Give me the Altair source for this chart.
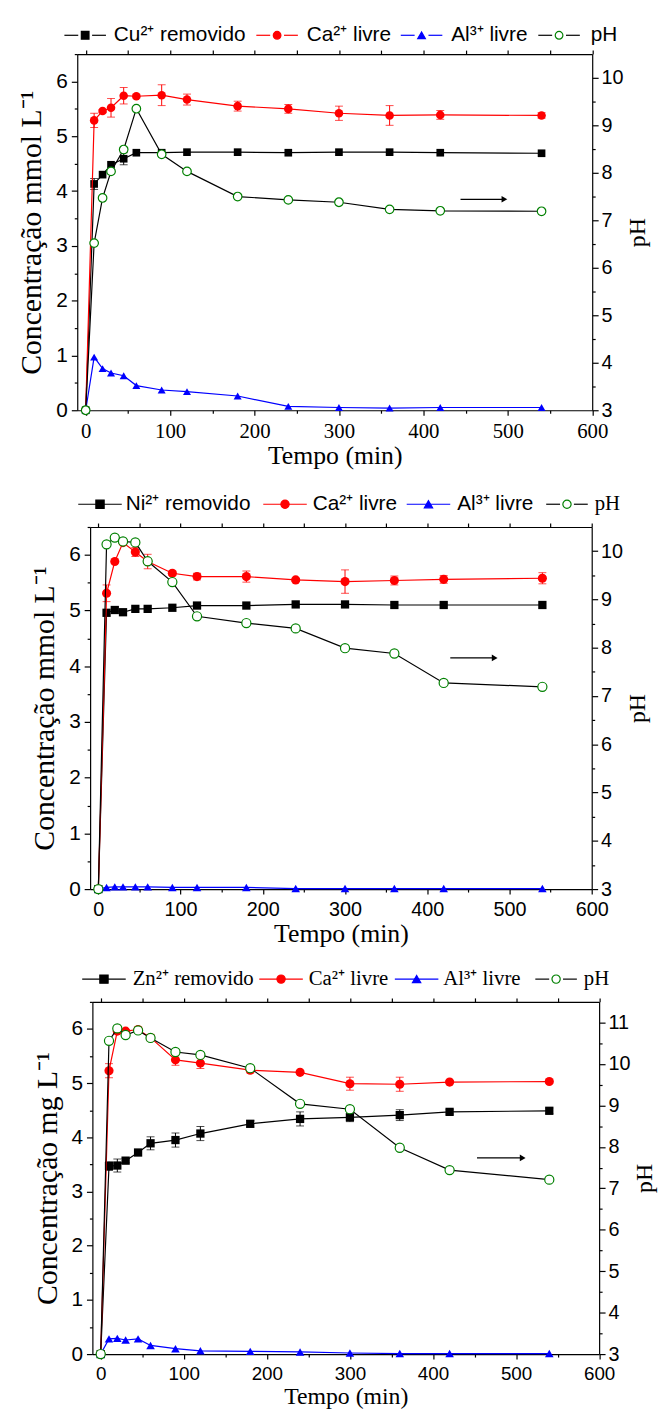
import altair as alt
import pandas as pd

# ---------------- data ----------------
T = [0, 10, 20, 30, 45, 60, 90, 120, 180, 240, 300, 360, 420, 540]

# Painel 1 (Cu)
cu_removido = [0, 4.13, 4.30, 4.48, 4.59, 4.70, 4.70, 4.71, 4.71, 4.70, 4.71, 4.71, 4.70, 4.69]
cu_removido_err = [0, 0.10, 0, 0, 0.11, 0, 0, 0, 0, 0, 0, 0, 0, 0]
ca_livre_1 = [0, 5.29, 5.46, 5.52, 5.74, 5.73, 5.75, 5.67, 5.55, 5.50, 5.42, 5.38, 5.39, 5.38]
ca_livre_1_err = [0, 0.13, 0.03, 0.17, 0.15, 0.03, 0.19, 0.10, 0.09, 0.08, 0.13, 0.18, 0.08, 0.05]
al_livre_1 = [0, 0.97, 0.76, 0.68, 0.63, 0.45, 0.37, 0.34, 0.26, 0.07, 0.05, 0.04, 0.05, 0.05]
ph_1 = [3.0, 6.52, 7.47, 8.03, 8.49, 9.35, 8.39, 8.03, 7.50, 7.43, 7.38, 7.23, 7.20, 7.19]

# Painel 2 (Ni)
ni_removido = [0, 4.96, 5.01, 4.97, 5.03, 5.03, 5.05, 5.09, 5.09, 5.11, 5.11, 5.10, 5.10, 5.10]
ni_removido_err = [0, 0, 0, 0, 0, 0, 0, 0, 0, 0, 0, 0, 0, 0]
ca_livre_2 = [0, 5.31, 5.88, 6.22, 6.05, 5.88, 5.67, 5.61, 5.61, 5.55, 5.52, 5.54, 5.56, 5.58]
ca_livre_2_err = [0, 0.15, 0, 0, 0.08, 0.13, 0.04, 0.06, 0.10, 0.03, 0.21, 0.08, 0.07, 0.10]
al_livre_2 = [0, 0.03, 0.04, 0.04, 0.04, 0.04, 0.03, 0.03, 0.03, 0.01, 0.01, 0.01, 0.01, 0.01]
ph_2 = [3.0, 10.14, 10.28, 10.20, 10.18, 9.79, 9.36, 8.65, 8.51, 8.40, 7.99, 7.88, 7.27, 7.19]

# Painel 3 (Zn)
zn_removido = [0, 3.47, 3.48, 3.57, 3.72, 3.89, 3.95, 4.07, 4.25, 4.34, 4.37, 4.41, 4.47, 4.49]
zn_removido_err = [0, 0.08, 0.12, 0.04, 0.04, 0.12, 0.13, 0.13, 0.06, 0.13, 0.08, 0.10, 0.04, 0.05]
ca_livre_3 = [0, 5.23, 5.96, 5.96, 5.99, 5.84, 5.43, 5.37, 5.24, 5.20, 4.99, 4.98, 5.02, 5.03]
ca_livre_3_err = [0, 0.13, 0.04, 0.03, 0.03, 0.06, 0.10, 0.10, 0.05, 0.03, 0.12, 0.13, 0.03, 0.03]
al_livre_3 = [0, 0.28, 0.29, 0.26, 0.28, 0.16, 0.10, 0.06, 0.05, 0.04, 0.02, 0.01, 0.01, 0.01]
ph_3 = [3.0, 10.56, 10.86, 10.70, 10.81, 10.63, 10.29, 10.22, 9.90, 9.04, 8.91, 7.98, 7.44, 7.21]

legend_labels_1 = ["Cu²⁺ removido", "Ca²⁺ livre", "Al³⁺ livre", "pH"]
legend_labels_2 = ["Ni²⁺ removido", "Ca²⁺ livre", "Al³⁺ livre", "pH"]
legend_labels_3 = ["Zn²⁺ removido", "Ca²⁺ livre", "Al³⁺ livre", "pH"]

ytitle_1 = "Concentração mmol L⁻¹"
ytitle_2 = "Concentração mmol L⁻¹"
ytitle_3 = "Concentração mg L⁻¹"
xtitle = "Tempo (min)"

# arrow annotation (t start, t end, concentration level)
arrow_1 = [444, 496, 3.85]
arrow_2 = [428, 482, 4.15]
arrow_3 = [453, 508, 3.62]

# ---------------- style / layout ----------------
SANS = "Liberation Sans"
SERIF = "Liberation Serif"
XDOM = [-10, 600]
KEYS = ["rem", "ca", "al", "ph"]
FILLS = ["black", "red", "blue", "white"]
STROKES = ["black", "red", "blue", "green"]
LINECOL = ["black", "red", "blue", "black"]
SHAPES = ["square", "circle", "triangle-up", "circle"]

W, H = 657, 1408          # whole drawing area (one view); panels are placed inside it


def make_df(rem, rem_err, ca, ca_err, al, ph):
    return pd.DataFrame({
        "t": T,
        "rem": rem,
        "rem_err": rem_err,
        "rem_lo": [v - e for v, e in zip(rem, rem_err)],
        "rem_hi": [v + e for v, e in zip(rem, rem_err)],
        "ca": ca,
        "ca_err": ca_err,
        "ca_lo": [v - e for v, e in zip(ca, ca_err)],
        "ca_hi": [v + e for v, e in zip(ca, ca_err)],
        "al": al,
        "ph": ph,
    })


def panel_layers(df, labels, ytitle, arrow, cfg):
    xl, xr, yt, yb = cfg["xl"], cfg["xr"], cfg["yt"], cfg["yb"]
    xs = alt.Scale(domain=XDOM, range=[xl, xr], nice=False, zero=False)
    ysl = alt.Scale(domain=[0, 6.5], range=[yb, yt], nice=False, zero=False)
    ysr = alt.Scale(domain=[3, cfg["phmax"]], range=[yb, yt], nice=False, zero=False)
    base = alt.Chart(df)

    def X(axis=None):
        return alt.X("t:Q", scale=xs, axis=axis)

    def YL(f, axis=None):
        return alt.Y(f + ":Q", scale=ysl, axis=axis)

    def YR(f, axis=None):
        return alt.Y(f + ":Q", scale=ysr, axis=axis)

    common = dict(domainColor="black", tickColor="black", labelColor="black",
                  titleColor="black", grid=False, domainWidth=1.2, tickWidth=1.2)
    off_b = yb - H
    off_t = -yt
    off_l = -xl
    off_r = xr - W
    ax_bottom = alt.Axis(orient="bottom", offset=off_b, values=list(range(0, 601, 100)),
                         title=xtitle, titleFont=SERIF, titleFontSize=cfg["xts"],
                         titleFontWeight=400, titlePadding=cfg["xtp"],
                         labelFont=cfg["xfont"], labelFontSize=cfg["xfs"],
                         labelPadding=cfg["xlp"], tickSize=5, labelFlush=False, **common)
    ax_bottom_minor = alt.Axis(orient="bottom", offset=off_b, values=list(range(50, 600, 100)),
                               labels=False, title=None, tickSize=3, domain=False, **common)
    ax_top = alt.Axis(orient="top", offset=off_t, values=list(range(0, 601, 50)), labels=False,
                      title=None, tickSize=4, **common)
    ax_left = alt.Axis(orient="left", offset=off_l, values=list(range(0, 7)), title=ytitle,
                       titleFont=SERIF, titleFontSize=30, titleFontWeight=400,
                       titlePadding=9, labelFont=SANS, labelFontSize=21, labelPadding=4,
                       tickSize=6, labelFlush=False, **common)
    ax_left_minor = alt.Axis(orient="left", offset=off_l, values=[i + 0.5 for i in range(0, 7)],
                             labels=False, title=None, tickSize=3, domain=False, **common)
    ph_top = int(cfg["phmax"])
    ax_right = alt.Axis(orient="right", offset=off_r, values=list(range(3, ph_top + 1)), title="pH",
                        titleFont=SERIF, titleFontSize=24, titleFontWeight=400,
                        titleAngle=270, titleBaseline="top", titlePadding=3,
                        labelFont=SANS, labelFontSize=20,
                        labelPadding=3, tickSize=6, labelFlush=False, **common)
    ax_right_minor = alt.Axis(orient="right", offset=off_r, values=[i + 0.5 for i in range(3, ph_top)],
                              labels=False, title=None, tickSize=3, domain=False, **common)

    layers = []
    # axis hosts (invisible)
    layers.append(base.mark_line(opacity=0).encode(x=X(ax_bottom), y=YL("rem", ax_left)))
    layers.append(base.mark_line(opacity=0).encode(x=X(ax_bottom_minor), y=YL("rem", ax_left_minor)))
    layers.append(base.mark_line(opacity=0).encode(x=X(ax_top), y=YR("ph", ax_right)))
    layers.append(base.mark_line(opacity=0).encode(x=X(), y=YR("ph", ax_right_minor)))

    lw = 1.2
    msz = cfg["msz"]
    # removed metal (black squares)
    layers.append(base.mark_line(color="black", strokeWidth=lw).encode(x=X(), y=YL("rem")))
    eb = base.transform_filter("datum.rem_err > 0")
    layers.append(eb.mark_rule(color="black", strokeWidth=1).encode(x=X(), y=YL("rem_lo"), y2="rem_hi:Q"))
    layers.append(eb.mark_tick(color="black", orient="horizontal", size=8, thickness=1).encode(x=X(), y=YL("rem_lo")))
    layers.append(eb.mark_tick(color="black", orient="horizontal", size=8, thickness=1).encode(x=X(), y=YL("rem_hi")))
    layers.append(base.mark_point(shape="square", filled=True, color="black", size=msz, opacity=1).encode(x=X(), y=YL("rem")))

    # Ca (red circles)
    layers.append(base.mark_line(color="red", strokeWidth=lw).encode(x=X(), y=YL("ca")))
    eb = base.transform_filter("datum.ca_err > 0")
    layers.append(eb.mark_rule(color="red", strokeWidth=1).encode(x=X(), y=YL("ca_lo"), y2="ca_hi:Q"))
    layers.append(eb.mark_tick(color="red", orient="horizontal", size=8, thickness=1).encode(x=X(), y=YL("ca_lo")))
    layers.append(eb.mark_tick(color="red", orient="horizontal", size=8, thickness=1).encode(x=X(), y=YL("ca_hi")))
    layers.append(base.mark_point(shape="circle", filled=True, color="red", size=msz + 15, opacity=1).encode(x=X(), y=YL("ca")))

    # Al (blue triangles)
    layers.append(base.mark_line(color="blue", strokeWidth=lw).encode(x=X(), y=YL("al")))
    layers.append(base.mark_point(shape="triangle-up", filled=True, color="blue", size=msz + 5, opacity=1).encode(x=X(), y=YL("al")))

    # pH (black line, open green circles) on the right scale
    layers.append(base.mark_line(color="black", strokeWidth=lw).encode(x=X(), y=YR("ph")))
    layers.append(base.mark_point(shape="circle", filled=False, fill="white", stroke="green",
                                  strokeWidth=1.2, size=msz + 15, opacity=1).encode(x=X(), y=YR("ph")))

    # arrow pointing to the right axis
    adf = pd.DataFrame({"t1": [arrow[0]], "t2": [arrow[1]], "y": [arrow[2]]})
    ab = alt.Chart(adf)
    layers.append(ab.mark_rule(color="black", strokeWidth=1.2).encode(
        x=alt.X("t1:Q", scale=xs, axis=None), x2="t2:Q", y=alt.Y("y:Q", scale=ysl, axis=None)))
    layers.append(ab.mark_point(shape="triangle-right", filled=True, color="black", size=45, opacity=1).encode(
        x=alt.X("t2:Q", scale=xs, axis=None), y=alt.Y("y:Q", scale=ysl, axis=None)))

    # legend above the plot (pixel positions in the drawing area)
    ly = cfg["legend_y"]
    ls = alt.Scale(domain=[0, W], range=[0, W], nice=False, zero=False)
    seg_rows = []
    for k, c, g in zip(KEYS, cfg["centers"], cfg["gapped"]):
        if g:
            seg_rows.append({"key": k, "s1": c - 21, "s2": c - 7})
            seg_rows.append({"key": k, "s1": c + 7, "s2": c + 21})
        else:
            seg_rows.append({"key": k, "s1": c - 22, "s2": c + 22})
    sdf = pd.DataFrame(seg_rows)
    mdf = pd.DataFrame({"key": KEYS, "cx": cfg["centers"]})
    tdf = pd.DataFrame({"key": KEYS, "lx": cfg["label_x"], "label": labels, "font": cfg["fonts"]})
    layers.append(alt.Chart(sdf).mark_rule(strokeWidth=lw).encode(
        x=alt.X("s1:Q", scale=ls, axis=None), x2="s2:Q", y=alt.value(ly),
        color=alt.Color("key:N", scale=alt.Scale(domain=KEYS, range=LINECOL), legend=None)))
    layers.append(alt.Chart(mdf).mark_point(strokeWidth=1.2, opacity=1, size=msz).encode(
        x=alt.X("cx:Q", scale=ls, axis=None), y=alt.value(ly),
        shape=alt.Shape("key:N", scale=alt.Scale(domain=KEYS, range=SHAPES), legend=None),
        fill=alt.Fill("key:N", scale=alt.Scale(domain=KEYS, range=FILLS), legend=None),
        stroke=alt.Stroke("key:N", scale=alt.Scale(domain=KEYS, range=STROKES), legend=None)))
    for fnt in sorted(set(cfg["fonts"])):
        layers.append(alt.Chart(tdf).transform_filter(alt.datum.font == fnt).mark_text(
            align="left", baseline="middle", font=fnt, fontSize=21, color="black").encode(
            x=alt.X("lx:Q", scale=ls, axis=None), y=alt.value(ly), text="label:N"))
    return layers


def shift(vals):
    return [v - 8 for v in vals]


# panel geometry in drawing coordinates (page coordinates minus the 8px page margin)
cfg1 = dict(xl=70, xr=590.5, yt=39, yb=399, phmax=10.5, legend_y=20,
            msz=60, xfont=SERIF, xfs=21, xlp=6, xtp=1, xts=26,
            centers=shift([86, 280, 426, 565]), label_x=shift([115, 310, 456, 597]),
            gapped=[True, True, True, True], fonts=[SANS, SANS, SANS, SANS])
cfg2 = dict(xl=83, xr=590, yt=517, yb=883, phmax=10.5, legend_y=494,
            msz=70, xfont=SANS, xfs=20, xlp=6, xtp=1, xts=26,
            centers=shift([101, 288, 433, 573]), label_x=shift([127, 316, 462, 601]),
            gapped=[False, False, False, True], fonts=[SANS, SANS, SANS, SERIF])
cfg3 = dict(xl=85.3, xr=597.5, yt=997, yb=1353, phmax=11.5, legend_y=974,
            msz=70, xfont=SANS, xfs=19, xlp=6, xtp=1, xts=24,
            centers=shift([105, 284, 421, 562]), label_x=shift([134, 312, 448, 590]),
            gapped=[False, False, False, True], fonts=[SERIF, SERIF, SERIF, SERIF])

all_layers = []
all_layers += panel_layers(make_df(cu_removido, cu_removido_err, ca_livre_1, ca_livre_1_err, al_livre_1, ph_1),
                           legend_labels_1, ytitle_1, arrow_1, cfg1)
all_layers += panel_layers(make_df(ni_removido, ni_removido_err, ca_livre_2, ca_livre_2_err, al_livre_2, ph_2),
                           legend_labels_2, ytitle_2, arrow_2, cfg2)
all_layers += panel_layers(make_df(zn_removido, zn_removido_err, ca_livre_3, ca_livre_3_err, al_livre_3, ph_3),
                           legend_labels_3, ytitle_3, arrow_3, cfg3)

chart = alt.layer(*all_layers).resolve_scale(
    x="independent", y="independent", color="independent",
    shape="independent", fill="independent", stroke="independent"
).properties(
    width=W, height=H, padding={"left": 0, "top": 0, "right": 0, "bottom": 0}
).configure_view(stroke="transparent").configure_axis(titleFontWeight=400)

chart.save("out.html", embed_options={"renderer": "svg", "actions": False})
